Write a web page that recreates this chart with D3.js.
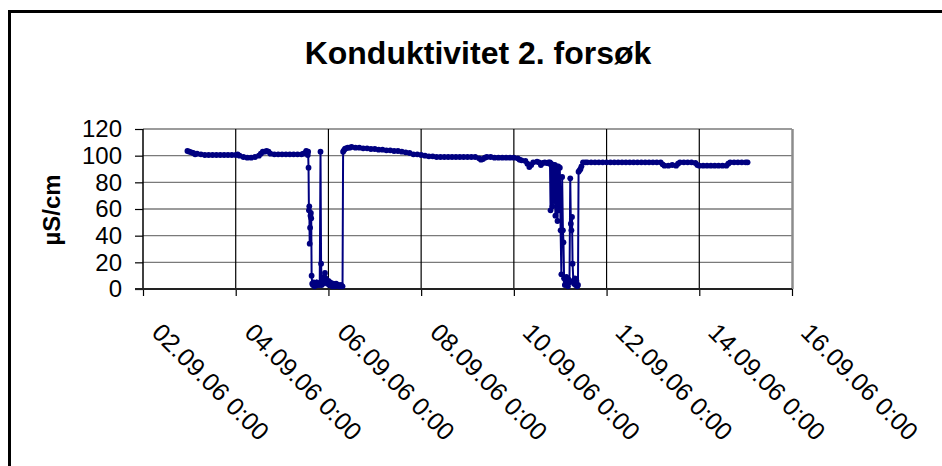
<!DOCTYPE html>
<html lang="no">
<head>
<meta charset="utf-8">
<title>Konduktivitet 2. forsøk</title>
<style>
body {
  margin: 0;
  background: #fff;
}
svg text {
  font-family: Arial, "Liberation Sans", sans-serif;
  fill: #000;
}
#title {
  font-size: 32px;
  font-weight: bold;
  text-anchor: middle;
}
.yLabel {
  font-size: 24px;
  font-weight: bold;
  text-anchor: middle;
}
.yAxis text {
  font-size: 24px;
}
.xAxis text {
  font-size: 25px;
}
.yAxis path, .xAxis path { display: none; }
.yAxis line, .xAxis line { stroke: #000; stroke-width: 1.2; }
</style>
</head>
<body>
<div id="chart"></div>
<script src="https://cdn.jsdelivr.net/npm/d3@7"></script>
<script>
// hours after 02.09.06 0:00, and conductivity in µS/cm
var hours = [
  23, 24, 25, 26, 27, 28, 30, 32, 34, 36, 38, 40, 42, 44, 46, 48, 49, 50, 52, 54,
  56, 58, 60, 61, 62, 63, 64, 65, 66, 68, 70, 72, 74, 76, 78, 80, 82, 83, 84, 84.5,
  85, 85.3,
  85.5, 85.7, 85.9, 86.1, 86.3, 86.5, 86.7, 86.9, 87.1, 87.3, 87.6, 88, 88.4, 88.8,
  89.2, 89.6, 90, 90.4, 90.8, 91.2, 91.5, 91.9, 92.2, 92.5, 93, 93.4, 93.8, 94.2,
  94.6, 95, 95.5, 96, 96.5, 97, 97.5, 98, 98.5, 99, 99.5, 100, 100.5, 101, 101.5,
  102, 102.5, 103.3, 103.6,
  104, 104.5, 105, 106, 107, 108, 110, 112, 114, 116, 118, 120, 122, 124, 126, 128,
  130, 132, 134, 136, 138, 140, 142, 144, 146, 148, 150, 152, 154, 156, 158, 160,
  162, 164, 166, 168, 170, 172, 174, 175, 176, 177, 178, 180, 182, 184, 186, 188,
  190, 192, 194, 195, 196, 198, 199, 200, 201, 202, 204, 205, 206, 207, 208, 209,
  210, 210.5,
  210.7, 211, 211.3, 211.6, 212, 212.4, 212.7, 213.2, 213.5, 213.8, 214.2, 214.6,
  215, 215.3, 215.8, 216.2, 216.6, 217, 217.4, 217.7, 218, 218.4, 218.8, 219.2,
  219.6, 220, 220.4, 220.8, 221.2, 221.5, 221.8, 222.1, 222.4, 222.8, 223.2, 223.6,
  224, 224.4, 224.8, 225.2, 225.5, 226, 226.5, 227, 227.8,
  229, 230, 232, 234, 236, 238, 240, 242, 244, 246, 248, 250, 252, 254, 256, 258,
  260, 262, 264, 266, 268, 269, 270, 272, 274, 276, 277, 278, 280, 282, 284, 286,
  287, 288, 290, 292, 294, 296, 298, 300, 302, 303, 304, 306, 308, 310, 312, 313
];
var values = [
  103.5, 103, 102.5, 102, 101, 101.5, 101, 100.5, 100.5, 100.5, 100.5, 100.5, 100.5, 100.5, 100.5, 100.5, 101, 100, 99, 98.5,
  98.5, 99, 100, 101.5, 103, 103, 103.5, 103, 101.5, 101, 101, 101, 101, 101, 101, 101, 101, 101.5, 102, 103.5,
  102, 100.5,
  103, 91, 59, 62, 34, 46, 55, 57, 53, 10, 4, 3, 5, 2,
  4, 3, 5, 3, 4, 3, 4, 103, 19, 3, 4, 6, 9, 12,
  8, 5, 4, 6, 3, 5, 4, 2, 4, 3, 2, 4, 3, 3, 2,
  2, 3, 2, 103,
  104, 105, 105.5, 106, 106, 106.5, 106, 106, 105.5, 105.5, 105, 105, 104.5, 104.5, 104, 104,
  103.5, 103.5, 103, 102.5, 102, 101, 101, 100.5, 100, 99.5, 99.5, 99, 99, 99, 99, 99,
  99, 99, 99, 99, 99, 99, 98, 97, 97.5, 98.5, 99, 99, 98.5, 98.5, 98.5, 98.5,
  98.5, 98.5, 98, 97, 96.5, 96, 94, 91.5, 93, 95, 95.5, 95, 93, 94.5, 95, 94.5,
  95, 94,
  95, 59, 94, 93, 62, 93, 66, 93, 55, 66, 92, 51,
  92, 59, 91, 44, 11, 84, 44, 35, 8, 3, 6, 9,
  4, 2, 7, 5, 83, 49, 44, 54, 19, 6, 4, 8,
  3, 6, 2, 3, 88, 89, 90, 92, 95,
  95, 95, 95, 95, 95, 95, 95, 95, 95, 95, 95, 95, 95, 95, 95, 95,
  95, 95, 95, 95, 95, 93.5, 92.5, 92.5, 93, 92.5, 94, 95, 95, 95, 95, 94.5,
  93, 92.5, 92.5, 92.5, 92.5, 92.5, 92.5, 92.5, 92.5, 94, 95, 95, 95, 95, 95, 95
];
var xTickLabels = ['02.09.06 0:00', '04.09.06 0:00', '06.09.06 0:00', '08.09.06 0:00',
  '10.09.06 0:00', '12.09.06 0:00', '14.09.06 0:00', '16.09.06 0:00'];
var yTicks = [0, 20, 40, 60, 80, 100, 120];

var parseTick = d3.timeParse('%d.%m.%y %H:%M');
var formatTick = d3.timeFormat('%d.%m.%y %-H:%M');
var tickDates = xTickLabels.map(function(s) { return parseTick(s); });
var start = tickDates[0];
var data = hours.map(function(h, i) {
  return { t: d3.timeMinute.offset(start, Math.round(h * 60)), v: values[i] };
});

var width = 942, height = 466;
var plot = { left: 143, right: 792, top: 129, bottom: 289 };

var svg = d3.select('#chart')
  .append('svg')
  .attr('width', width)
  .attr('height', height);

// chart area frame (runs off the right and bottom edge)
svg.append('rect')
  .attr('x', 9.5).attr('y', 11.5)
  .attr('width', 1000).attr('height', 1000)
  .attr('fill', '#fff')
  .attr('stroke', '#000')
  .attr('stroke-width', 3);

var x = d3.scaleTime()
  .domain([tickDates[0], tickDates[tickDates.length - 1]])
  .range([plot.left, plot.right]);
var y = d3.scaleLinear()
  .domain([0, 120])
  .range([plot.bottom, plot.top]);

svg.append('text')
  .attr('id', 'title')
  .attr('x', 478)
  .attr('y', 64)
  .text('Konduktivitet 2. forsøk');

// horizontal gridlines
svg.append('g')
  .selectAll('line')
  .data(yTicks.slice(1))
  .enter()
  .append('line')
  .attr('x1', plot.left).attr('x2', plot.right)
  .attr('y1', function(d) { return y(d); })
  .attr('y2', function(d) { return y(d); })
  .attr('stroke', '#7a7a7a')
  .attr('stroke-width', 1.3);

// vertical gridlines
svg.append('g')
  .selectAll('line')
  .data(tickDates.slice(1, -1))
  .enter()
  .append('line')
  .attr('x1', function(d) { return x(d); })
  .attr('x2', function(d) { return x(d); })
  .attr('y1', plot.top).attr('y2', plot.bottom)
  .attr('stroke', '#000')
  .attr('stroke-width', 1.2);

// plot area right edge
svg.append('line')
  .attr('x1', plot.right + 0.5).attr('x2', plot.right + 0.5)
  .attr('y1', plot.top).attr('y2', plot.bottom)
  .attr('stroke', '#8c8c8c')
  .attr('stroke-width', 2.5);

// y axis
var yAxis = svg.append('g')
  .attr('class', 'yAxis')
  .attr('transform', 'translate(' + plot.left + ',0)')
  .call(d3.axisLeft(y).tickValues(yTicks).tickSize(8).tickPadding(13));
svg.append('line')
  .attr('x1', plot.left).attr('x2', plot.left)
  .attr('y1', plot.top).attr('y2', plot.bottom + 1)
  .attr('stroke', '#000').attr('stroke-width', 1.5);

// x axis
var xAxis = svg.append('g')
  .attr('class', 'xAxis')
  .attr('transform', 'translate(0,' + plot.bottom + ')')
  .call(d3.axisBottom(x).tickValues(tickDates).tickSize(7).tickFormat(formatTick));
xAxis.selectAll('text')
  .attr('y', null)
  .attr('dy', null)
  .attr('text-anchor', 'start')
  .attr('transform', 'translate(7,45) rotate(45)');
svg.append('line')
  .attr('x1', plot.left - 8).attr('x2', plot.right)
  .attr('y1', plot.bottom).attr('y2', plot.bottom)
  .attr('stroke', '#222').attr('stroke-width', 2);

svg.append('text')
  .attr('class', 'yLabel')
  .attr('transform', 'translate(60,210) rotate(-90)')
  .text('µS/cm');

// series
var line = d3.line()
  .x(function(d) { return x(d.t); })
  .y(function(d) { return y(d.v); });

svg.append('path')
  .datum(data)
  .attr('fill', 'none')
  .attr('stroke', '#000080')
  .attr('stroke-width', 2)
  .attr('d', line);

svg.append('g')
  .selectAll('circle')
  .data(data)
  .enter()
  .append('circle')
  .attr('cx', function(d) { return x(d.t); })
  .attr('cy', function(d) { return y(d.v); })
  .attr('r', 2.9)
  .attr('fill', '#000080');
</script>
</body>
</html>
